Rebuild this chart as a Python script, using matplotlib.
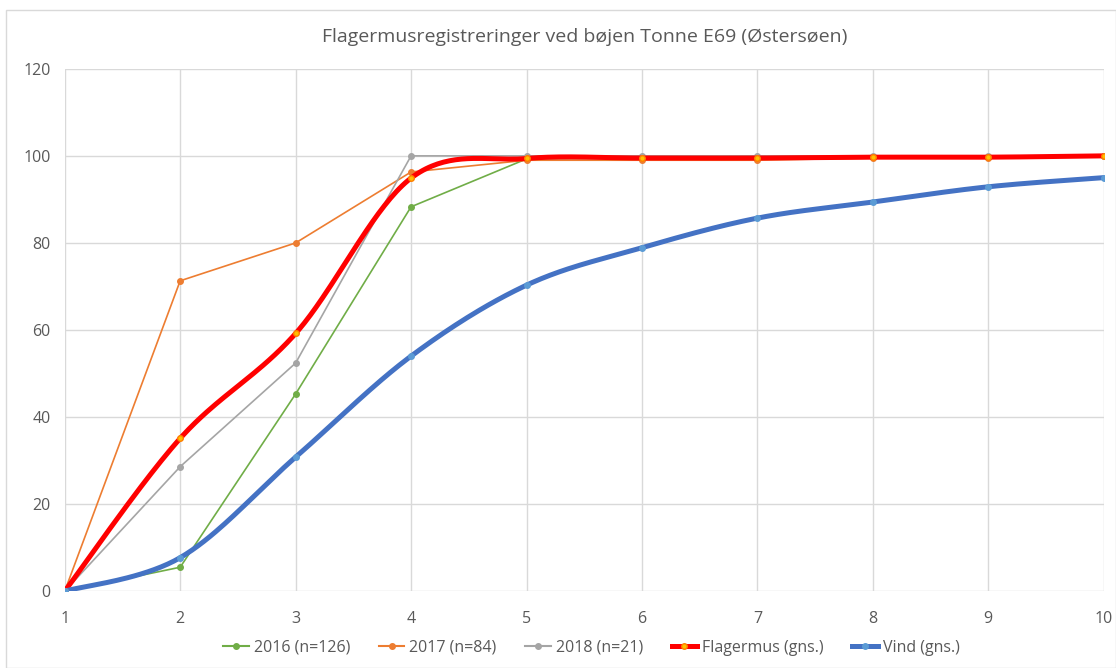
import matplotlib.pyplot as plt
import numpy as np
from matplotlib.patches import Rectangle
from matplotlib.lines import Line2D

# Kumulative andele (%) pr. vindklasse
x = [1, 2, 3, 4, 5, 6, 7, 8, 9, 10]
y2016 = [0, 5.5, 45.3, 88.3, 99.3, 99.5, 99.5, 99.7, 99.7, 100]
y2017 = [0, 71.3, 80.0, 96.3, 99.0, 99.0, 99.0, 99.5, 99.5, 100]
y2018 = [0, 28.6, 52.4, 100, 100, 100, 100, 100, 100, 100]
flagermus = [0, 35.1, 59.2, 94.9, 99.4, 99.5, 99.5, 99.7, 99.7, 100]
vind = [0, 7.7, 30.8, 54.0, 70.3, 78.9, 85.7, 89.4, 92.9, 95.0]

labels = ['2016 (n=126)', '2017 (n=84)', '2018 (n=21)', 'Flagermus (gns.)', 'Vind (gns.)']
xticks = list(range(1, 11))
yticks = list(range(0, 121, 20))


def glat(xs, ys, n=40):
    # Bezier-udglatning i stil med regnearkets "udjævnet linje"
    p = np.column_stack([xs, ys]).astype(float)
    p = np.vstack([p[0], p, p[-1]])
    ux, uy = [], []
    t = np.linspace(0, 1, n)
    for i in range(1, len(p) - 2):
        p0, p1, p2, p3 = p[i - 1], p[i], p[i + 1], p[i + 2]
        c1 = p1 + (p2 - p0) / 6
        c2 = p2 - (p3 - p1) / 6
        b = ((1 - t)**3)[:, None] * p1 + (3 * (1 - t)**2 * t)[:, None] * c1 \
            + (3 * (1 - t) * t**2)[:, None] * c2 + (t**3)[:, None] * p2
        ux.extend(b[:, 0]); uy.extend(b[:, 1])
    return ux, uy


fig = plt.figure(figsize=(11.16, 6.68), dpi=100)
plt.rcParams['font.family'] = ['Open Sans', 'DejaVu Sans']
fig.patches.append(Rectangle((0.005, 0.0), 0.995, 0.985, transform=fig.transFigure,
                             fill=False, edgecolor='#d9d9d9', lw=1))

ax = fig.add_axes([0.058, 0.115, 0.931, 0.782])

grey = '#595959'
ax.plot(x, y2016, color='#70ad47', lw=1.2, marker='o', ms=4, zorder=3)
ax.plot(x, y2017, color='#ed7d31', lw=1.2, marker='o', ms=4, zorder=3)
ax.plot(x, y2018, color='#a5a5a5', lw=1.2, marker='o', ms=4, zorder=3)

sx, sy = glat(x, flagermus)
ax.plot(sx, sy, color='#ff0000', lw=3.6, zorder=4, solid_capstyle='round')
ax.plot(x, flagermus, ls='none', marker='o', ms=4, mfc='#ffc000', mec='#ff7f00', zorder=5)

sx, sy = glat(x, vind)
ax.plot(sx, sy, color='#4472c4', lw=3.6, zorder=4, solid_capstyle='round')
ax.plot(x, vind, ls='none', marker='o', ms=4, mfc='#5b9bd5', mec='#5b9bd5', zorder=5)

ax.set_xlim(1, 10)
ax.set_ylim(0, 120)
ax.set_xticks(xticks)
ax.set_yticks(yticks)
ax.grid(True, color='#d9d9d9', lw=1)
ax.set_axisbelow(True)
for s in ax.spines.values():
    s.set_visible(False)
ax.tick_params(length=0, labelsize=11.5, labelcolor=grey)
ax.tick_params(axis='x', pad=14)
ax.tick_params(axis='y', pad=10)

ax.set_title('Flagermusregistreringer ved bøjen Tonne E69 (Østersøen)',
             fontsize=14, color=grey, pad=19)

handles = [
    Line2D([], [], color='#70ad47', lw=1.5, marker='o', ms=4),
    Line2D([], [], color='#ed7d31', lw=1.5, marker='o', ms=4),
    Line2D([], [], color='#a5a5a5', lw=1.5, marker='o', ms=4),
    Line2D([], [], color='#ff0000', lw=3.6, marker='o', ms=4, mfc='#ffc000', mec='#ff7f00'),
    Line2D([], [], color='#4472c4', lw=3.6, marker='o', ms=4, mfc='#5b9bd5', mec='#5b9bd5'),
]
fig.legend(handles, labels, loc='center', bbox_to_anchor=(0.53, 0.03), ncol=5,
           frameon=False, fontsize=11.5, labelcolor=grey, handlelength=1.6,
           handletextpad=0.3, columnspacing=1.8)

fig.savefig('out.png', dpi=100)
